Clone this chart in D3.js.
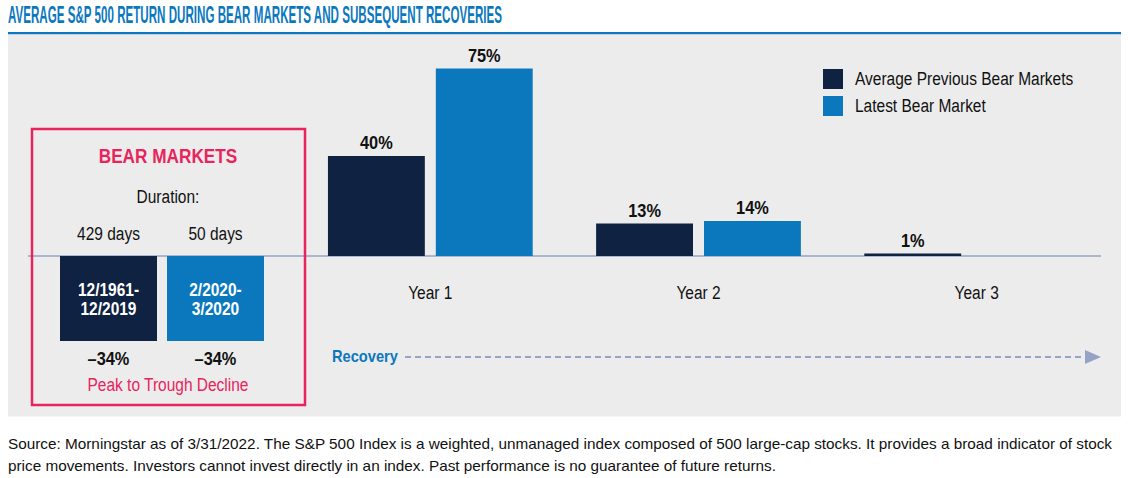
<!DOCTYPE html>
<html>
<head>
<meta charset="utf-8">
<script src="https://cdn.jsdelivr.net/npm/d3@7"></script>
<style>
  html, body { margin: 0; padding: 0; background: #fff; }
  svg { display: block; }
  text { font-family: "Liberation Sans", Arial, sans-serif; }
</style>
</head>
<body>
<svg id="chart"></svg>
<script>
/* S&P 500 bear markets and recoveries */
const years = ['Year 1', 'Year 2', 'Year 3'];
const series = ['Average Previous Bear Markets', 'Latest Bear Market'];
const avgPrevious = [40, 13, 1];
const latest = [75, 14, null];

const bearLabels = [['12/1961-', '12/2019'], ['2/2020-', '3/2020']];
const bearDurations = ['429 days', '50 days'];
const bearDeclines = [-34, -34];

const footnote = [
  'Source: Morningstar as of 3/31/2022. The S&P 500 Index is a weighted, unmanaged index composed of 500 large-cap stocks. It provides a broad indicator of stock',
  'price movements. Investors cannot invest directly in an index. Past performance is no guarantee of future returns.'
];

const W = 1128, H = 478;
const NAVY = '#0f2241', BLUE = '#0b78be', PINK = '#e8245c', GRID = '#97a3c6';
const colors = [NAVY, BLUE];
const NARROW = 0.86; // no narrow font installed, squeeze glyphs instead

const svg = d3.select('#chart').attr('width', W).attr('height', H);
svg.append('rect').attr('width', W).attr('height', H).attr('fill', '#fff');

// title + rule + panel
svg.append('text').attr('x', 8).attr('y', 22.5).attr('class', 'fixed')
  .attr('fill', BLUE).attr('font-weight', 700).attr('font-size', 23)
  .attr('textLength', 494).attr('lengthAdjust', 'spacingAndGlyphs')
  .text('AVERAGE S&P 500 RETURN DURING BEAR MARKETS AND SUBSEQUENT RECOVERIES');
svg.append('rect').attr('x', 8).attr('y', 32).attr('width', 1113).attr('height', 2.5).attr('fill', BLUE);
svg.append('rect').attr('x', 8).attr('y', 34.5).attr('width', 1113).attr('height', 382).attr('fill', '#ececec');

const y = d3.scaleLinear().domain([-40, 80]).range([356, 56]);

const x0 = d3.scaleBand().domain(years).range([296.25, 1100.75]).paddingInner(0.2365).paddingOuter(0.1182);
const x1 = d3.scaleBand().domain(series).range([0, x0.bandwidth()]).paddingInner(0.102);

const rows = [];
years.forEach((yr, i) => {
  [avgPrevious[i], latest[i]].forEach((v, j) => {
    if (v != null) rows.push({ year: yr, s: series[j], v, c: colors[j] });
  });
});

// baseline
svg.append('line').attr('x1', 28).attr('x2', 1101).attr('y1', y(0)).attr('y2', y(0))
  .attr('stroke', GRID).attr('stroke-width', 1.5);

const g = svg.append('g');
g.selectAll('rect.bar').data(rows).enter().append('rect')
  .attr('class', 'bar')
  .attr('x', d => x0(d.year) + x1(d.s))
  .attr('width', x1.bandwidth())
  .attr('y', d => y(d.v))
  .attr('height', d => y(0) - y(d.v))
  .attr('fill', d => d.c);

g.selectAll('text.val').data(rows).enter().append('text')
  .attr('class', 'val')
  .attr('x', d => x0(d.year) + x1(d.s) + x1.bandwidth() / 2)
  .attr('y', d => y(d.v) - 7)
  .attr('text-anchor', 'middle').attr('font-weight', 700).attr('font-size', 19).attr('fill', '#111')
  .text(d => d.v + '%');

g.selectAll('text.year').data(years).enter().append('text')
  .attr('class', 'year')
  .attr('x', d => x0(d) + x0.bandwidth() / 2 + (d === 'Year 3' ? 10 : 0))
  .attr('y', 299)
  .attr('text-anchor', 'middle').attr('font-size', 18).attr('fill', '#111')
  .text(d => d);

// legend
const leg = svg.append('g').attr('transform', 'translate(823,69)');
series.forEach((s, i) => {
  leg.append('rect').attr('x', 0).attr('y', i * 27).attr('width', 20).attr('height', 20).attr('fill', colors[i]);
  leg.append('text').attr('x', 32).attr('y', i * 27 + 16).attr('font-size', 18).attr('fill', '#111').text(s);
});

// bear markets box
const xb = d3.scaleBand().domain(bearLabels.map((d, i) => i)).range([60, 264]).paddingInner(0.0935);
const bear = svg.append('g');
bear.append('rect').attr('x', 32).attr('y', 129).attr('width', 273).attr('height', 276)
  .attr('fill', 'none').attr('stroke', PINK).attr('stroke-width', 2.5);
bear.append('text').attr('x', 168).attr('y', 163).attr('text-anchor', 'middle')
  .attr('font-weight', 700).attr('font-size', 20).attr('fill', PINK).text('BEAR MARKETS');
bear.append('text').attr('x', 168).attr('y', 203).attr('text-anchor', 'middle')
  .attr('font-size', 18).attr('fill', '#111').text('Duration:');
bear.selectAll('text.dur').data(bearDurations).enter().append('text')
  .attr('class', 'dur')
  .attr('x', (d, i) => xb(i) + xb.bandwidth() / 2).attr('y', 240)
  .attr('text-anchor', 'middle').attr('font-size', 18).attr('fill', '#111').text(d => d);
bear.selectAll('rect.neg').data(bearDeclines).enter().append('rect')
  .attr('class', 'neg')
  .attr('x', (d, i) => xb(i)).attr('width', xb.bandwidth())
  .attr('y', y(0)).attr('height', d => y(d) - y(0))
  .attr('fill', (d, i) => colors[i]);
bearLabels.forEach((lines, i) => {
  lines.forEach((t, k) => {
    bear.append('text').attr('x', xb(i) + xb.bandwidth() / 2).attr('y', 296 + k * 19)
      .attr('text-anchor', 'middle').attr('font-weight', 700).attr('font-size', 18).attr('fill', '#fff').text(t);
  });
});
bear.selectAll('text.dec').data(bearDeclines).enter().append('text')
  .attr('class', 'dec')
  .attr('x', (d, i) => xb(i) + xb.bandwidth() / 2).attr('y', y(d3.min(bearDeclines)) + 24)
  .attr('text-anchor', 'middle').attr('font-weight', 700).attr('font-size', 19).attr('fill', '#111')
  .text(d => '\u2013' + Math.abs(d) + '%');
bear.append('text').attr('x', 168).attr('y', 391).attr('text-anchor', 'middle')
  .attr('font-size', 18).attr('fill', PINK).text('Peak to Trough Decline');

// recovery arrow
svg.append('text').attr('x', 332).attr('y', 362).attr('font-weight', 700).attr('font-size', 17)
  .attr('fill', BLUE).text('Recovery');
svg.append('line').attr('x1', 405).attr('x2', 1086).attr('y1', 357).attr('y2', 357)
  .attr('stroke', GRID).attr('stroke-width', 2).attr('stroke-dasharray', '6,4');
svg.append('path').attr('d', 'M1085,350 L1101,357 L1085,364 Z').attr('fill', GRID);

// squeeze everything except fixed-length texts
svg.selectAll('text:not(.fixed)').each(function () {
  const len = this.getComputedTextLength();
  d3.select(this).attr('textLength', len * NARROW).attr('lengthAdjust', 'spacingAndGlyphs');
});

// footnote
svg.selectAll('text.foot').data(footnote).enter().append('text')
  .attr('class', 'foot')
  .attr('x', 8).attr('y', (d, i) => 449 + i * 22)
  .attr('font-size', 15).attr('fill', '#111')
  .attr('textLength', (d, i) => i === 0 ? 1104 : 768)
  .attr('lengthAdjust', 'spacingAndGlyphs')
  .text(d => d);
</script>
</body>
</html>
